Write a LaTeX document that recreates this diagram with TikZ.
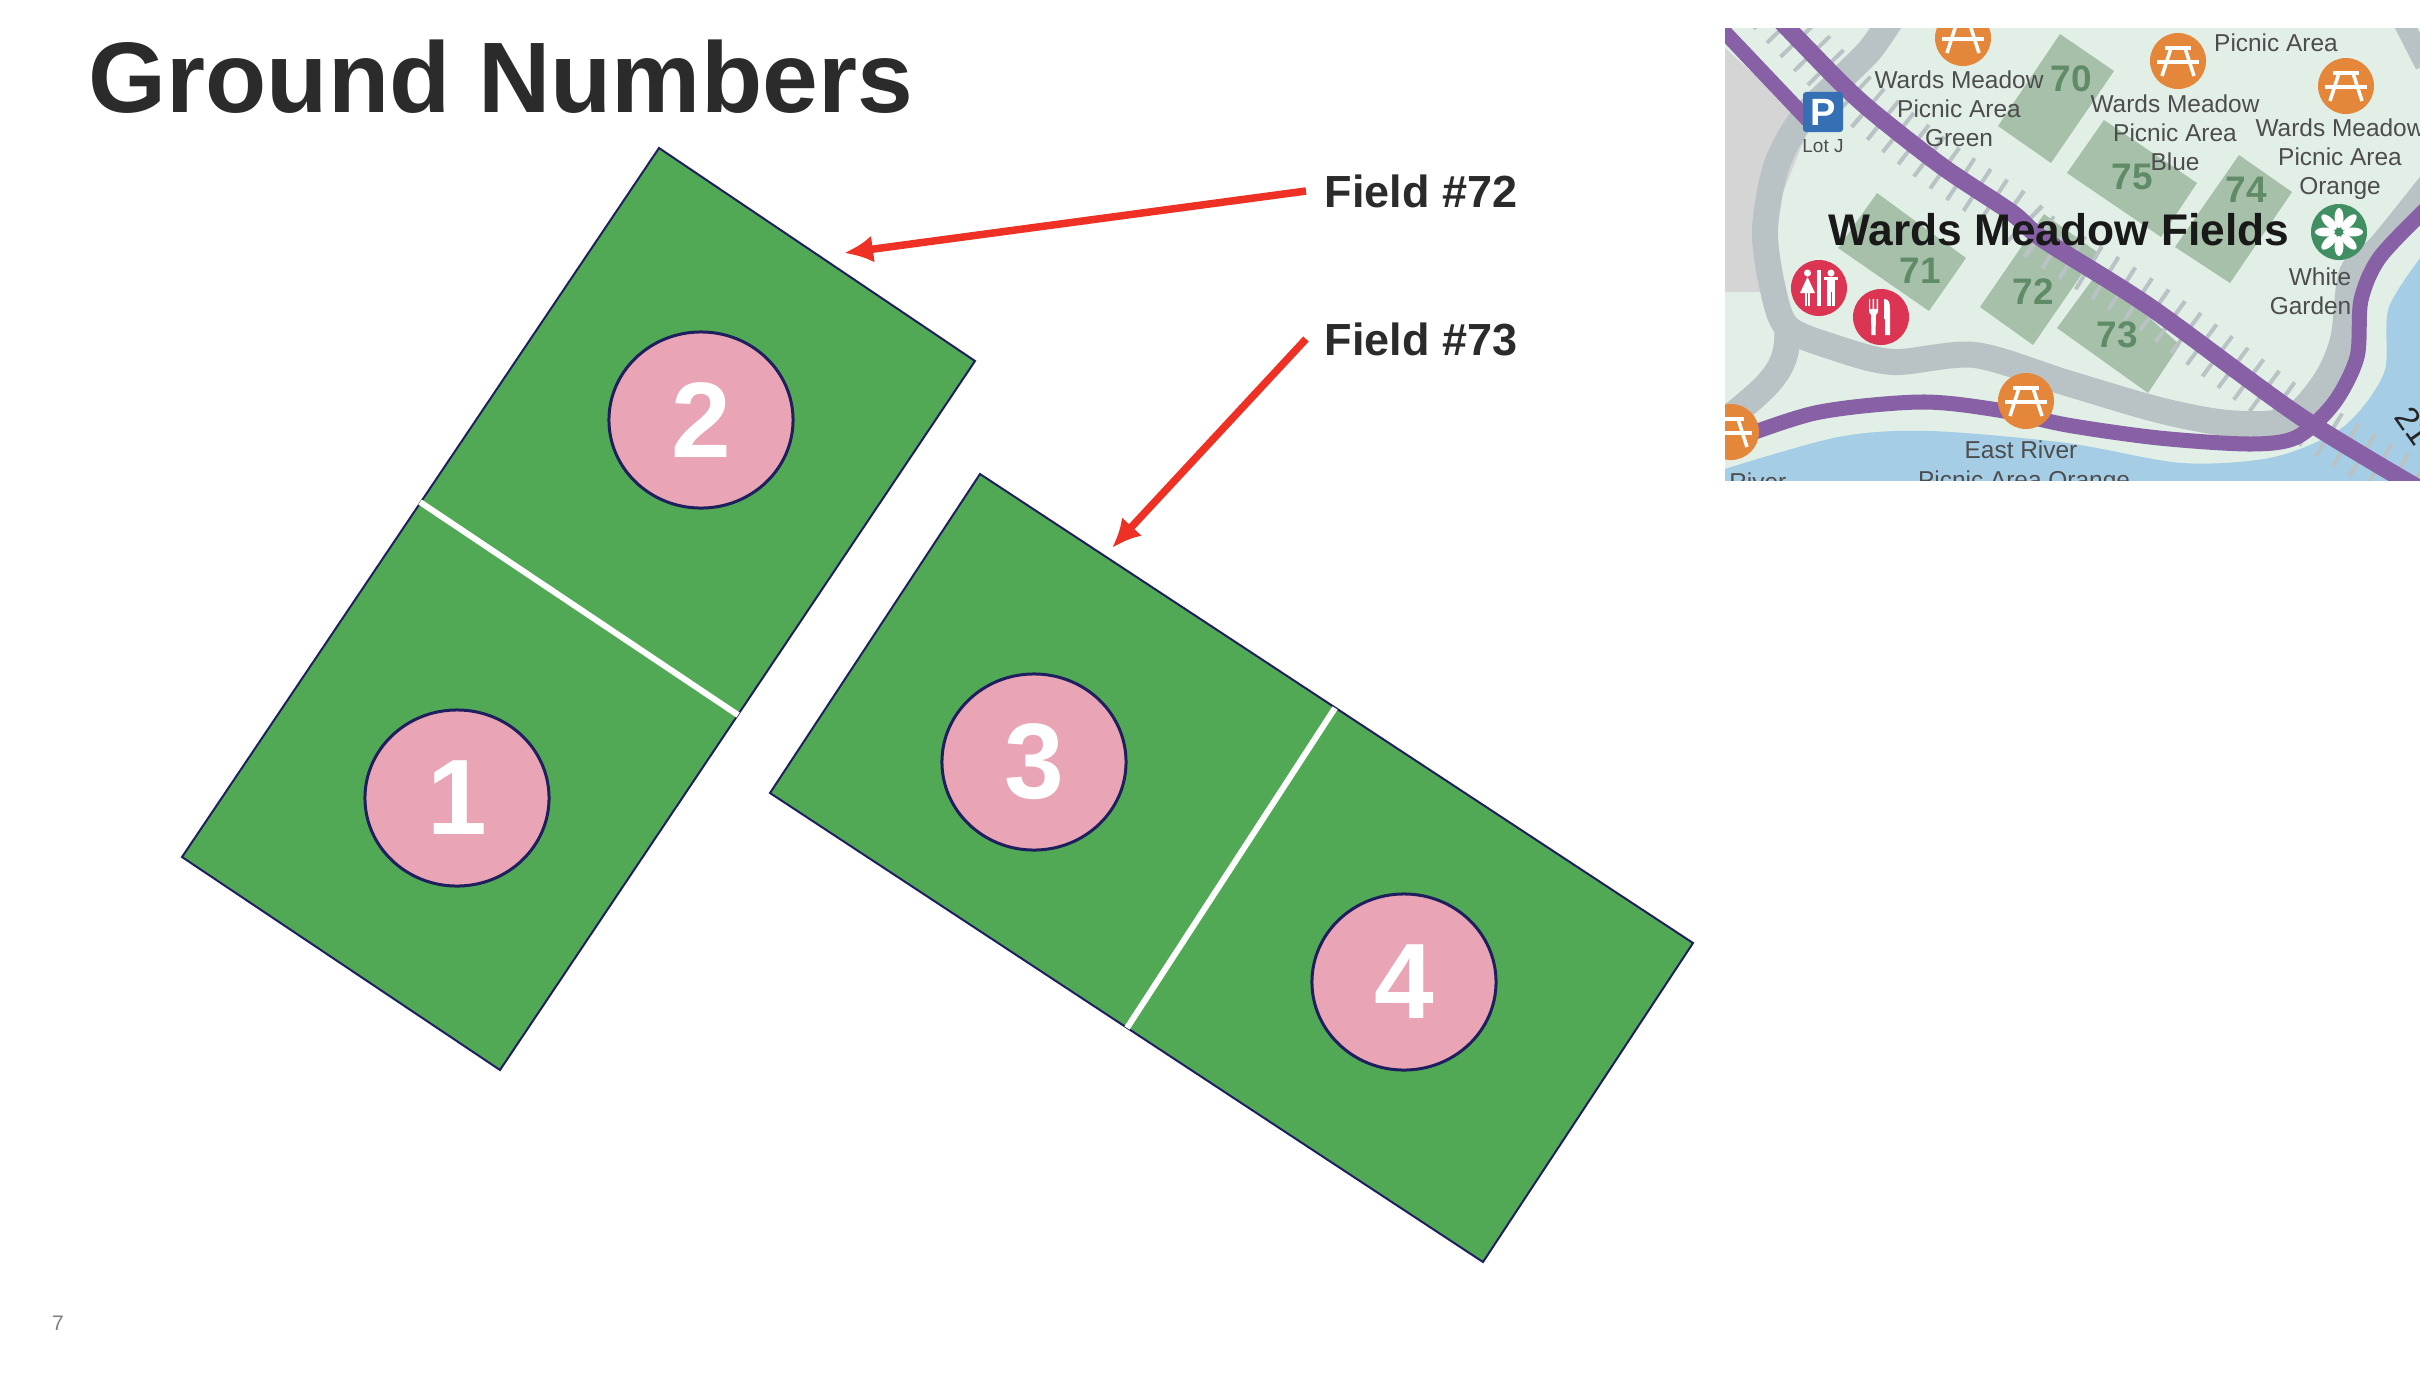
\documentclass[tikz,border=0pt]{standalone}
\usepackage{fontspec}
\setmainfont{Liberation Sans}
\usetikzlibrary{shapes.geometric,arrows.meta}
\definecolor{fieldgreen}{HTML}{52A955}
\definecolor{fieldline}{HTML}{1F1F5F}
\definecolor{numpink}{HTML}{E9A5B5}
\definecolor{arrowred}{HTML}{EE3124}
\definecolor{titlegray}{HTML}{2B2B2B}
\definecolor{mapbg}{HTML}{E2EFE6}
\definecolor{maplot}{HTML}{D5D5D5}
\definecolor{maproad}{HTML}{B9C3C5}
\definecolor{maprail}{HTML}{8760A5}
\definecolor{mapwater}{HTML}{A5CEE6}
\definecolor{mapfield}{HTML}{A7C0AA}
\definecolor{mapnum}{HTML}{5F8B66}
\definecolor{maptext}{HTML}{4D4D4D}
\definecolor{iconorange}{HTML}{E5873A}
\definecolor{iconred}{HTML}{DC3553}
\definecolor{iconblue}{HTML}{3570B5}
\definecolor{icongreen}{HTML}{3F8F62}
\tikzset{
  ground/.style={fill=fieldgreen,draw=fieldline,line width=.02cm,line join=miter},
  halfline/.style={draw=white,line width=.06cm},
  numdisc/.style={ellipse,draw=fieldline,line width=.03cm,fill=numpink,minimum width=1.84cm,minimum height=1.76cm,inner sep=0pt,text=white,font=\fontsize{30.5}{32}\bfseries},
  fieldlabel/.style={anchor=west,inner sep=0pt,inner xsep=.18cm,text=titlegray,font=\fontsize{12.8}{15}\bfseries},
  fieldarrow/.style={draw=arrowred,line width=.075cm,-{Latex[length=.29cm,width=.27cm]}},
  maplabel/.style={text=maptext,align=center,inner sep=0pt,font=\fontsize{6.95}{8.3}\selectfont},
  mapnumber/.style={text=mapnum,inner sep=0pt,font=\fontsize{10.5}{11}\bfseries},
  icondisc/.style={circle,minimum size=.56cm,inner sep=0pt},
}
\newcommand{\picnicicon}[2]{%
  \node[icondisc,fill=iconorange] (table#1) at (#2) {};
  \begin{scope}[shift={(#2)},draw=white,line width=.035cm]
    \draw[line width=.04cm] (-13,-13) -- (13,-13);
    \draw (-21,1) -- (21,1);
    \draw (-7,-13) -- (-16,15);
    \draw (7,-13) -- (16,15);
  \end{scope}}
\begin{document}
\begin{tikzpicture}[x=.01cm,y=-.01cm]
  \useasboundingbox (0,0) rectangle (2420,1378);
  \node[anchor=west,inner sep=0pt,text=titlegray,font=\fontsize{28.5}{30}\bfseries] (title) at (88,77) {Ground Numbers};
  \node[text=gray,inner sep=0pt,font=\fontsize{6}{7}\selectfont] (pagenum) at (58,1323) {7};

  \coordinate (A) at (659,148);
  \coordinate (B) at (975,361);
  \coordinate (C) at (500,1070);
  \coordinate (D) at (182,857);
  \coordinate (AD) at (420,502);
  \coordinate (BC) at (738,715);
  \coordinate (E) at (980,474);
  \coordinate (F) at (1693,943);
  \coordinate (G) at (1483,1262);
  \coordinate (H) at (770,793);
  \coordinate (EF) at (1335,708);
  \coordinate (GH) at (1127,1028);
  \draw[ground] (A) -- (B) -- (C) -- (D) -- cycle;
  \draw[ground] (E) -- (F) -- (G) -- (H) -- cycle;
  \draw[halfline] (AD) -- (BC);
  \draw[halfline] (EF) -- (GH);
  \node[numdisc] (n1) at (457,798) {1};
  \node[numdisc] (n2) at (701,420) {2};
  \node[numdisc] (n3) at (1034,762) {3};
  \node[numdisc] (n4) at (1404,982) {4};

  \node[fieldlabel] (lab72) at (1306,191) {Field \#72};
  \node[fieldlabel] (lab73) at (1306,339) {Field \#73};
  \coordinate (tip72) at (844,253);
  \coordinate (tip73) at (1112,548);
  \draw[fieldarrow] (lab72.west) -- (tip72);
  \draw[fieldarrow] (lab73.west) -- (tip73);

  \begin{scope}
    \clip (1725,28) rectangle (2420,480);
    \fill[mapbg] (1725,28) rectangle (2420,480);
    \fill[maplot] (1725,48) -- (1810,125) -- (1780,200) -- (1765,292) -- (1725,292) -- cycle;
    \fill[mapwater] plot[smooth] coordinates {(1715,472) (1838,437) (1930,431) (2067,443) (2182,463) (2274,457) (2343,427) (2384,373) (2389,307) (2430,245)} -- (2430,490) -- (1715,490) -- cycle;
    \foreach \plotcorners in {
      {(2060,34) -- (2114,71) -- (2051,163) -- (1998,126)},
      {(2104,120) -- (2197,183) -- (2161,237) -- (2067,173)},
      {(2239,155) -- (2292,192) -- (2230,283) -- (2175,247)},
      {(1877,193) -- (1966,258) -- (1929,311) -- (1838,248)},
      {(2044,214) -- (2097,252) -- (2033,345) -- (1980,307)},
      {(2098,272) -- (2180,345) -- (2148,393) -- (2057,328)}}
      \fill[mapfield] \plotcorners -- cycle;
    \draw[maproad,line width=.26cm] plot[smooth] coordinates {(1892,18) (1870,50) (1840,80) (1801,120) (1776,167) (1765,230) (1772,285) (1787,327) (1833,347) (1893,362) (1975,355) (2067,383) (2159,410) (2228,423) (2288,420) (2324,383) (2343,340) (2352,273) (2380,247) (2430,185)};
    \draw[maproad,line width=.26cm] (1787,327) .. controls (1790,370) and (1770,385) .. (1720,425);
    \draw[maproad,line width=.2cm] (2402,20) -- (2425,65);
    \draw[maproad,line width=.5cm,dash pattern=on .04cm off .155cm] plot[smooth] coordinates {(1770,10) (1838,80) (1874,113) (1943,167) (2012,213) (2044,240) (2150,307) (2301,417) (2430,495)};
    \draw[maprail,line width=.15cm] (1715,22) -- (1808,120);
    \draw[maprail,line width=.175cm] plot[smooth] coordinates {(1775,15) (1838,80) (1874,113) (1943,167) (2012,213) (2044,240) (2150,307) (2301,417) (2430,495)};
    \draw[maprail,line width=.15cm] plot[smooth] coordinates {(1720,445) (1815,413) (1920,402) (1998,410) (2067,425) (2159,438) (2251,444) (2297,437) (2334,403) (2357,357) (2361,300) (2380,257) (2430,205)};

    \node[mapnumber] (m70) at (2071,79) {70};
    \node[mapnumber] (m75) at (2132,177) {75};
    \node[mapnumber] (m74) at (2246,190) {74};
    \node[mapnumber] (m71) at (1920,271) {71};
    \node[mapnumber] (m72) at (2033,292) {72};
    \node[mapnumber] (m73) at (2117,335) {73};

    \picnicicon{a}{1963,38}
    \picnicicon{b}{2178,61}
    \picnicicon{c}{2346,86}
    \picnicicon{d}{2026,401}
    \picnicicon{e}{1731,432}

    \node[fill=iconblue,rounded corners=.03cm,minimum width=.4cm,minimum height=.4cm,inner sep=0pt,text=white,font=\fontsize{10.8}{11}\bfseries] (parking) at (1823,112) {P};
    \node[maplabel,font=\fontsize{5.4}{6}\selectfont] (lotj) at (1823,146) {Lot J};

    \node[icondisc,fill=iconred] (toilets) at (1819,288) {};
    \begin{scope}[shift={(toilets)},fill=white,draw=white]
      \fill (-1.8,-18) rectangle (1.8,18);
      \fill (-11.5,-15) circle (.035cm);
      \fill (12,-15) circle (.035cm);
      \fill (-11.5,-11) -- (-4,5) -- (-19,5) -- cycle;
      \fill (-14,5) rectangle (-12.3,18);
      \fill (-10.7,5) rectangle (-9,18);
      \fill (5,-11) rectangle (19,-8);
      \fill (8,-11) rectangle (16,4);
      \fill (8,4) rectangle (11.5,18);
      \fill (12.5,4) rectangle (16,18);
    \end{scope}
    \node[icondisc,fill=iconred] (food) at (1881,317) {};
    \begin{scope}[shift={(food)},fill=white]
      \fill (-12,-18) -- (-11,-18) -- (-11,-8) -- (-8.5,-8) -- (-8.5,-18) -- (-7,-18) -- (-7,-8) -- (-4.5,-8) -- (-4.5,-18) -- (-3,-18) -- (-3,-5) -- (-5,-2) -- (-5.5,18) -- (-9.5,18) -- (-10,-2) -- (-12,-5) -- cycle;
      \fill (3,-18) .. controls (8,-18) and (9,-14) .. (9,-8) -- (9,18) -- (4,18) -- (4,2) -- (3,2) -- cycle;
    \end{scope}
    \node[icondisc,fill=icongreen] (garden) at (2339,232) {};
    \foreach \petal in {0,45,...,315}
      \fill[white,shift={(garden)},rotate=\petal] (14,0) ellipse (.1cm and .045cm);

    \node[maplabel] (greenarea) at (1959,109) {Wards Meadow\\Picnic Area\\Green};
    \node[maplabel] (bluearea) at (2175,133) {Wards Meadow\\Picnic Area\\Blue};
    \node[maplabel] (picnic) at (2276,43) {Picnic Area};
    \node[maplabel] (orangearea) at (2340,159) {Wards Meadow\\Picnic Area\\Orange};
    \node[maplabel,align=right,anchor=east] (whitegarden) at (2352,291) {White\\Garden};
    \node[maplabel] (eastriver) at (2021,450) {East River};
    \node[maplabel] (orangeriver) at (2024,482) {Picnic Area Orange};
    \node[maplabel,anchor=east] (river) at (1787,482) {East River};
    \node[text=black!85,inner sep=0pt,rotate=-55,font=\fontsize{9.5}{10}\selectfont] (mile) at (2414,426) {21};
    \node[inner sep=0pt,text=black!90,font=\fontsize{12.6}{13}\bfseries] (meadow) at (2059,230) {Wards Meadow Fields};
  \end{scope}
\end{tikzpicture}
\end{document}
